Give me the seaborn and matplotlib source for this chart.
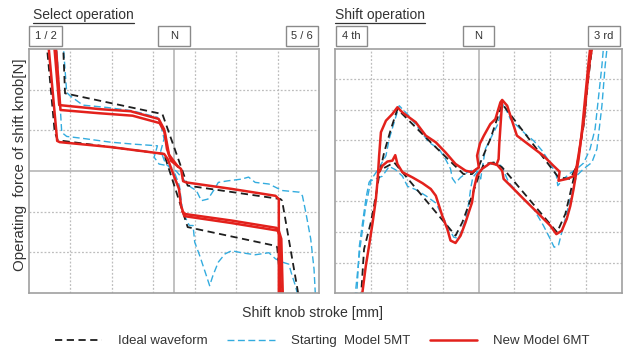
import numpy as np
import pandas as pd
import seaborn as sns
import matplotlib.pyplot as plt
from matplotlib.lines import Line2D
from matplotlib.patches import Rectangle
import matplotlib.transforms as mtransforms

# ---- data (stroke / force, arbitrary units) ----
# Select operation panel
SEL_IDEAL_A_X = [-2.68, -2.63, -0.28, 0.33, 2.57, 2.61, 3.03]
SEL_IDEAL_A_Y = [3.2, 1.91, 1.40, -0.36, -0.69, -0.73, -3.2]
SEL_IDEAL_B_X = [-3.08, -2.88, -2.80, -2.68, -0.24, 0.33, 2.45, 2.49, 2.61]
SEL_IDEAL_B_Y = [3.2, 0.96, 0.74, 0.74, 0.42, -1.38, -1.84, -1.87, -3.2]

SEL_START_A_X = [-2.68, -2.59, -2.51, -2.2, -1.6, -1.0, -0.40, -0.32, -0.24, -0.32, -0.20,
                 0.05, 0.22, 0.41, 0.54, 0.66, 0.82, 0.98, 1.07, 1.31, 1.63, 1.80, 1.96,
                 2.29, 2.61, 3.02, 3.10, 3.18, 3.30, 3.38, 3.42]
SEL_START_A_Y = [3.2, 1.93, 1.85, 1.62, 1.56, 1.48, 1.32, 1.15, 0.79, 0.49, 0.17,
                 0.0, -0.20, -0.40, -0.48, -0.73, -0.69, -0.44, -0.28, -0.24, -0.20, -0.15, -0.28,
                 -0.32, -0.48, -0.52, -0.61, -1.01, -1.67, -2.41, -3.2]
SEL_START_B_X = [-2.84, -2.71, -2.59, -2.19, -1.54, -0.97, -0.40, -0.48, -0.36, -0.15, 0.01,
                 0.13, 0.21, 0.37, 0.46, 0.50, 0.62, 0.78, 0.86, 0.94, 1.07, 1.23, 1.39,
                 1.63, 1.96, 2.29, 2.45, 2.61, 2.77, 2.85, 2.93, 3.02]
SEL_START_B_Y = [3.2, 0.95, 0.85, 0.80, 0.71, 0.66, 0.62, 0.34, 0.17, 0.13, -0.03,
                 -0.36, -1.01, -1.34, -1.34, -1.75, -2.08, -2.57, -2.82, -2.57, -2.24, -2.04, -1.96,
                 -2.01, -2.06, -2.01, -2.16, -2.24, -2.29, -2.57, -2.82, -3.2]

SEL_NEW_A_X = [-2.90, -2.77, -2.76, -1.78, -1.05, -0.37, -0.24, -0.17, -0.07, 0.17, 0.22,
               0.29, 1.39, 2.45, 2.53, 2.53]
SEL_NEW_A_Y = [3.2, 1.62, 1.62, 1.52, 1.47, 1.28, 1.03, 0.54, 0.25, 0.05, -0.25,
               -0.28, -0.44, -0.61, -0.69, -3.2]
SEL_NEW_A2_X = [-2.86, -2.74, -1.80, -1.00, -0.35, -0.22, -0.12, 0.10]
SEL_NEW_A2_Y = [3.2, 1.50, 1.42, 1.36, 1.18, 0.95, 0.40, 0.10]
SEL_NEW_B_X = [-3.04, -2.82, -2.76, -1.54, -0.24, -0.15, 0.01, 0.12, 0.17, 0.25, 1.39,
               2.53, 2.59, 2.63]
SEL_NEW_B_Y = [3.2, 0.74, 0.71, 0.59, 0.42, 0.29, -0.15, -0.44, -0.85, -1.11, -1.28,
               -1.47, -1.67, -3.2]
SEL_NEW_B2_X = [0.20, 0.28, 1.40, 2.48, 2.55, 2.58]
SEL_NEW_B2_Y = [-1.00, -1.06, -1.22, -1.40, -1.60, -3.2]

# Shift operation panel
SFT_IDEAL_A_X = [-3.28, -3.19, -3.00, -2.86, -2.77, -2.63, -2.44, -2.26, -1.35, -0.42,
                 -0.18, 0.0, 0.33, 0.66, 2.23, 2.56, 2.74, 2.93, 3.06, 3.16, 3.21]
SFT_IDEAL_A_Y = [-4.2, -2.56, -1.68, -0.81, -0.15, 0.61, 1.38, 2.03, 0.96, -0.10,
                 -0.10, 0.13, 1.05, 2.20, -0.21, -0.26, 0.17, 1.49, 3.02, 4.0, 4.3]
SFT_IDEAL_B_X = [-2.63, -2.35, -0.64, -0.45, -0.18, 0.01, 0.15, 0.43, 0.66, 2.19, 2.42,
                 2.65, 2.74]
SFT_IDEAL_B_Y = [0.10, 0.28, -2.12, -1.68, -0.81, -0.15, 0.23, 0.28, 0.12, -2.01, -1.41,
                 -0.26, 0.17]

SFT_START_A_X = [-3.40, -3.32, -3.23, -3.14, -3.05, -2.95, -2.80, -2.58, -2.49, -2.35, -2.21,
                 -1.94, -1.66, -1.38, -1.10, -0.92, -0.78, -0.73, -0.64, -0.50, -0.31, -0.08,
                 0.06, 0.19, 0.33, 0.52, 0.70, 0.89, 1.07, 1.31, 1.54, 1.77, 2.00, 2.17,
                 2.21, 2.37, 2.56, 2.74, 2.93, 3.11, 3.25, 3.34, 3.44, 3.48, 3.50]
SFT_START_A_Y = [-4.2, -2.45, -1.68, -0.92, -0.37, -0.21, 0.05, 0.50, 1.05, 1.60, 2.14,
                 1.81, 1.38, 0.94, 0.72, 0.39, 0.07, -0.24, -0.39, -0.21, -0.04, 0.07,
                 -0.26, 0.72, 1.05, 1.49, 2.20, 1.70, 1.49, 1.21, 0.99, 0.67, 0.26, -0.15,
                 -0.48, -0.26, -0.07, 0.07, 0.26, 0.72, 1.38, 2.36, 3.45, 4.0, 4.3]
SFT_START_B_X = [-3.45, -3.30, -3.15, -3.00, -2.68, -2.49, -2.31, -2.12, -1.98, -1.75, -1.47,
                 -1.19, -1.01, -0.82, -0.69, -0.56, -0.45, -0.34, -0.27, -0.22, -0.16, -0.04,
                 0.15, 0.43, 0.61, 0.70, 0.84, 1.17, 1.54, 1.81, 2.00, 2.11, 2.23, 2.37,
                 2.51, 2.65, 2.74, 2.93, 3.16, 3.30, 3.44, 3.53, 3.58, 3.60]
SFT_START_B_Y = [-4.2, -2.50, -1.20, -0.32, -0.17, 0.15, 0.04, -0.17, -0.50, -0.61, -0.81,
                 -1.05, -1.47, -1.90, -2.17, -2.21, -1.90, -1.47, -1.03, -0.59, -0.21, -0.04,
                 0.12, 0.26, 0.20, 0.01, -0.37, -0.81, -1.25, -1.79, -2.23, -2.50, -2.43, -1.79,
                 -1.14, -0.48, -0.15, 0.07, 0.28, 0.72, 2.14, 3.45, 4.0, 4.3]

SFT_NEW_A_X = [-3.26, -3.14, -3.05, -2.95, -2.86, -2.81, -2.77, -2.72, -2.58, -2.40, -2.26,
               -2.12, -1.75, -1.47, -1.19, -0.92, -0.64, -0.36, -0.18, 0.01, -0.04, 0.04,
               0.15, 0.33, 0.47, 0.61, 0.66, 0.80, 0.89, 1.07, 1.44, 1.81, 2.09, 2.26,
               2.23, 2.46, 2.65, 2.74, 2.83, 2.93, 3.02, 3.11, 3.16, 3.18]
SFT_NEW_A_Y = [-4.2, -3.10, -2.45, -1.68, -0.92, -0.26, 0.50, 1.27, 1.65, 1.87, 2.09,
               1.92, 1.60, 1.16, 0.94, 0.61, 0.23, 0.01, -0.04, 0.12, 0.50, 0.90,
               1.16, 1.54, 1.70, 2.25, 2.33, 2.14, 1.81, 1.16, 0.83, 0.50, 0.17, -0.02,
               -0.32, -0.26, -0.17, 0.17, 0.83, 1.60, 2.69, 3.67, 4.0, 4.3]
SFT_NEW_B_X = [-2.77, -2.68, -2.54, -2.40, -2.32, -2.26, -2.12, -1.84, -1.56, -1.33, -1.19,
               -1.01, -0.87, -0.78, -0.64, -0.50, -0.36, -0.27, -0.18, -0.13, -0.04, 0.10,
               0.33, 0.52, 0.66, 0.70, 0.89, 1.26, 1.63, 2.00, 2.17, 2.32, 2.46, 2.56,
               2.65, 2.72, 2.79, 2.88, 2.97, 3.06, 3.11, 3.13]
SFT_NEW_B_Y = [-0.04, 0.17, 0.31, 0.34, 0.52, 0.23, -0.04, -0.21, -0.40, -0.59, -0.81,
               -1.47, -1.90, -2.28, -2.36, -2.12, -1.68, -1.35, -1.03, -0.59, -0.15, 0.07,
               0.26, 0.20, 0.01, -0.26, -0.48, -0.92, -1.35, -1.79, -2.07, -1.96, -1.57, -1.14,
               -0.59, -0.10, 0.39, 1.27, 2.36, 3.45, 4.0, 4.3]
SFT_NEW_C_X = [0.66, 0.62, 0.58, 0.56, 0.50]
SFT_NEW_C_Y = [2.30, 1.60, 0.90, 0.39, 0.20]

TRACES = {
    'select': {
        'Starting  Model 5MT': [(SEL_START_A_X, SEL_START_A_Y), (SEL_START_B_X, SEL_START_B_Y)],
        'Ideal waveform': [(SEL_IDEAL_A_X, SEL_IDEAL_A_Y), (SEL_IDEAL_B_X, SEL_IDEAL_B_Y)],
        'New Model 6MT': [(SEL_NEW_A_X, SEL_NEW_A_Y), (SEL_NEW_A2_X, SEL_NEW_A2_Y),
                          (SEL_NEW_B_X, SEL_NEW_B_Y), (SEL_NEW_B2_X, SEL_NEW_B2_Y)],
    },
    'shift': {
        'Starting  Model 5MT': [(SFT_START_A_X, SFT_START_A_Y), (SFT_START_B_X, SFT_START_B_Y)],
        'Ideal waveform': [(SFT_IDEAL_A_X, SFT_IDEAL_A_Y), (SFT_IDEAL_B_X, SFT_IDEAL_B_Y)],
        'New Model 6MT': [(SFT_NEW_A_X, SFT_NEW_A_Y), (SFT_NEW_B_X, SFT_NEW_B_Y),
                          (SFT_NEW_C_X, SFT_NEW_C_Y)],
    },
}

SERIES = ['Starting  Model 5MT', 'Ideal waveform', 'New Model 6MT']
LEGEND_ORDER = ['Ideal waveform', 'Starting  Model 5MT', 'New Model 6MT']
COLORS = {'Ideal waveform': '#1e1e1e', 'Starting  Model 5MT': '#33acdf',
          'New Model 6MT': '#e3211c'}
STYLES = {'Ideal waveform': (0, (4, 2.5)), 'Starting  Model 5MT': (0, (5, 2.5)),
          'New Model 6MT': '-'}
WIDTHS = {'Ideal waveform': 1.3, 'Starting  Model 5MT': 1.0, 'New Model 6MT': 1.8}

# long table for seaborn
rows = []
for panel, series in TRACES.items():
    for name, traces in series.items():
        for i, (xs, ys) in enumerate(traces):
            for k, (x, y) in enumerate(zip(xs, ys)):
                rows.append({'panel': panel, 'series': name, 'trace': i, 'order': k,
                             'stroke': x, 'force': y})
df = pd.DataFrame(rows)

sns.set_style('white')
plt.rcParams['font.family'] = ['Liberation Sans', 'DejaVu Sans']

fig = plt.figure(figsize=(6.24, 3.5), dpi=100)
ax1 = fig.add_axes([29 / 624, 57 / 350, 290 / 624, 244 / 350])
ax2 = fig.add_axes([335 / 624, 57 / 350, 287 / 624, 244 / 350])

panels = [
    (ax1, 'select', (-3.5, 3.5), (-3, 3), [-2.5, -1.5, -0.5, 0.5, 1.5, 2.5], [-2, -1, 1, 2],
     'Select operation', 33, [(-3.1, '1 / 2'), (0.0, 'N'), (3.09, '5 / 6')], 0.78),
    (ax2, 'shift', (-4, 4), (-4, 4), [-3, -2, -1, 1, 2, 3], [-3, -2, -1, 1, 2, 3],
     'Shift operation', 335, [(-3.54, '4 th'), (0.0, 'N'), (3.49, '3 rd')], 0.89),
]

titles = []
for ax, key, xlim, ylim, vgrid, hgrid, title, tx, boxes, bw in panels:
    for v in vgrid:
        ax.axvline(v, color='#bdbdbd', lw=0.9, ls=(0, (1.5, 1.5)), zorder=0)
    for h in hgrid:
        ax.axhline(h, color='#bdbdbd', lw=0.9, ls=(0, (1.5, 1.5)), zorder=0)
    ax.axvline(0, color='#b0b0b0', lw=1.1, zorder=0)
    ax.axhline(0, color='#b0b0b0', lw=1.1, zorder=0)

    sub = df[df['panel'] == key]
    for name in SERIES:
        d = sub[sub['series'] == name].sort_values(['trace', 'order'])
        sns.lineplot(data=d, x='stroke', y='force', units='trace', estimator=None,
                     sort=False, color=COLORS[name], lw=WIDTHS[name], ax=ax, legend=False)
        for ln in ax.lines[-d['trace'].nunique():]:
            ln.set_linestyle(STYLES[name])

    ax.set_xlim(*xlim)
    ax.set_ylim(*ylim)
    ax.set_xticks([])
    ax.set_yticks([])
    ax.set_xlabel('')
    ax.set_ylabel('')
    for sp in ax.spines.values():
        sp.set_color('#a0a0a0')
        sp.set_linewidth(1.2)

    trans = mtransforms.blended_transform_factory(ax.transData, ax.transAxes)
    for xc, lab in boxes:
        ax.add_patch(Rectangle((xc - bw / 2, 1.012), bw, 0.082, transform=trans,
                               clip_on=False, fc='white', ec='#8a8a8a', lw=1.0))
        ax.text(xc, 1.053, lab, transform=trans, ha='center', va='center',
                fontsize=8, color='#333333')

    titles.append(fig.text(tx / 624, 1 - 15 / 350, title, ha='left', va='center',
                           fontsize=10, color='#333333'))

fig.text(20 / 624, 1 - 165 / 350, 'Operating  force of shift knob[N]', rotation=90,
         ha='center', va='center', fontsize=10.8, color='#333333')
fig.text(312.5 / 624, 1 - 313 / 350, 'Shift knob stroke [mm]', ha='center', va='center',
         fontsize=10.2, color='#333333')

handles = [Line2D([], [], color=COLORS[n], lw=WIDTHS[n], ls=STYLES[n]) for n in LEGEND_ORDER]
fig.legend(handles, LEGEND_ORDER, loc='center', bbox_to_anchor=(322 / 624, 1 - 341 / 350),
           ncol=3, frameon=False, fontsize=9.5, handlelength=3.6, columnspacing=1.5,
           handletextpad=1.2, labelcolor='#333333')

# underline the panel titles
fig.canvas.draw()
renderer = fig.canvas.get_renderer()
inv = fig.transFigure.inverted()
for t in titles:
    bb = t.get_window_extent(renderer)
    (x0, y0), (x1, _) = inv.transform([(bb.x0, bb.y0 - 1), (bb.x1, bb.y0 - 1)])
    fig.add_artist(Line2D([x0, x1], [y0, y0], transform=fig.transFigure,
                          color='#333333', lw=0.9))

fig.savefig('out.png', dpi=100)
